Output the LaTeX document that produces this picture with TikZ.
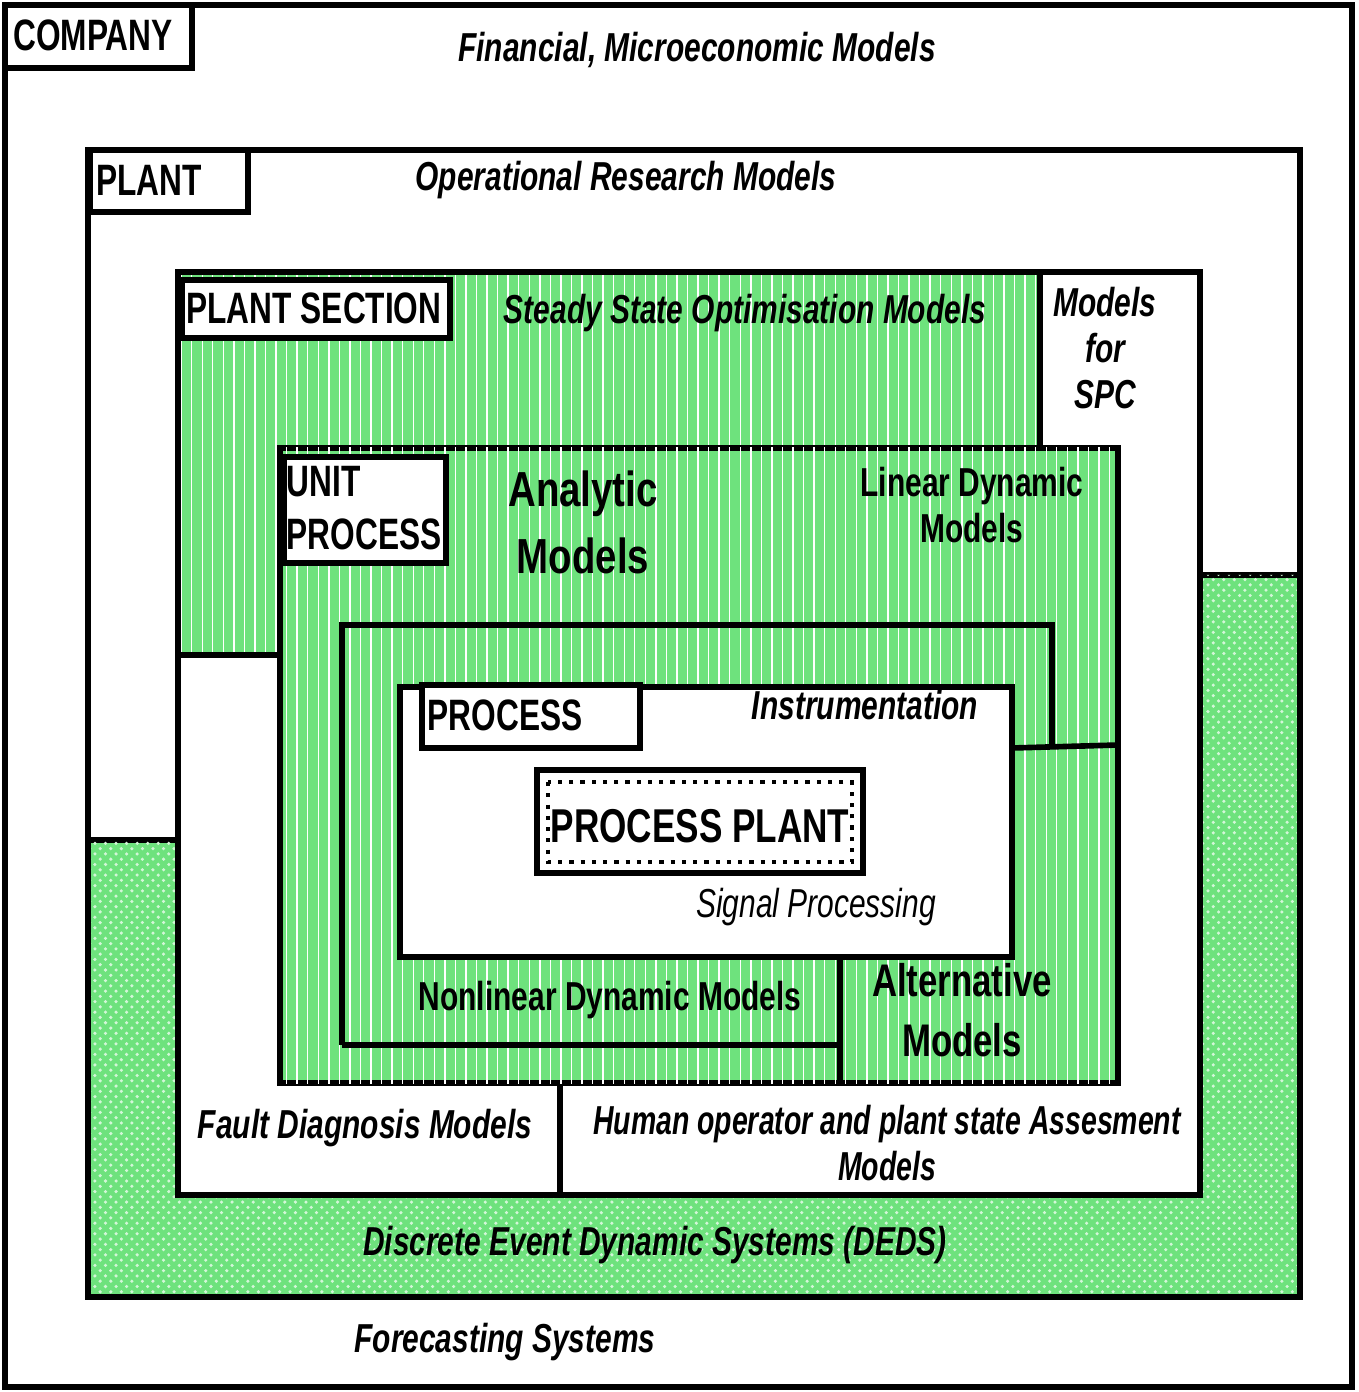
\documentclass[tikz,border=0pt]{standalone}
\usepackage{fontspec}
\setmainfont{Liberation Sans}
\usetikzlibrary{patterns}
\definecolor{grn}{RGB}{110,226,125}
\begin{document}
\begin{tikzpicture}[x=0.01cm,y=-0.01cm,line width=1.6pt,
 stripe/.style={fill=grn,postaction={pattern=vertical lines,pattern color=white}},
 dots/.style={fill=grn,postaction={pattern=crosshatch dots,pattern color=white!70!grn}},
 lab/.style={font=\bfseries\itshape\fontsize{11.5}{13}\selectfont,xscale=0.74,transform shape,align=center,inner sep=0},
 box/.style={font=\bfseries\fontsize{12.5}{15}\selectfont,xscale=0.72,transform shape,align=left,inner sep=0}]
\useasboundingbox (0,0) rectangle (1358,1392);
\fill[white] (0,0) rectangle (1358,1392);
% company
\draw (5,5) rectangle (1352,1387);
\draw (5,5) rectangle (192,68);
\node[box] (company) at (93,35) {COMPANY};
\node[lab] (fin) at (697,50) {Financial, Microeconomic Models};
\node[lab] (fore) at (505,1342) {Forecasting Systems};
% plant
\draw[dots] (88,1297) -- (88,840) -- (178,840) -- (178,1195) -- (1200,1195) -- (1200,575) -- (1300,575) -- (1300,1297) -- cycle;
\draw (88,150) rectangle (1300,1297);
\draw (90,150) rectangle (248,212);
\node[box] (plant) at (149,180) {PLANT};
\node[lab] (orm) at (626,180) {Operational Research Models};
\node[lab] (deds) at (655,1245) {Discrete Event Dynamic Systems (DEDS)};
% plant section
\path[stripe] (178,275) rectangle (1040,655);
\draw (178,272) rectangle (1200,1195);
\draw (1040,275) -- (1040,448);
\draw (178,655) -- (280,655);
\draw[fill=white] (182,280) rectangle (450,338);
\node[box] (ps) at (314,308) {PLANT SECTION};
\node[lab] (sso) at (745,313) {Steady State Optimisation Models};
\node[lab] (spc) at (1105,348) {Models\\for\\SPC};
\draw (560,1083) -- (560,1195);
\node[lab] (fdm) at (365,1128) {Fault Diagnosis Models};
\node[lab,xscale=0.95] (hum) at (887,1143) {Human operator and plant state Assesment\\Models};
% unit process
\draw[stripe] (280,448) rectangle (1118,1083);
\draw[fill=white] (284,457) rectangle (446,563);
\node[box,align=left] (up) at (364,508) {UNIT\\PROCESS};
\node[font=\bfseries\fontsize{14}{19}\selectfont,xscale=0.78,transform shape,align=center,inner sep=0] (ana) at (583,522) {Analytic\\Models};
\node[font=\bfseries\fontsize{11.5}{13}\selectfont,xscale=0.74,transform shape,align=center,inner sep=0] (lin) at (972,505) {Linear Dynamic\\Models};
% inner boxes
\draw (342,1045) -- (342,625) -- (1052,625) -- (1052,748);
\draw (342,1045) -- (840,1045);
\draw (1012,748) -- (1118,745);
\draw (840,955) -- (840,1083);
\node[font=\bfseries\fontsize{11.5}{13}\selectfont,xscale=0.74,transform shape,inner sep=0] (nl) at (610,1000) {Nonlinear Dynamic Models};
\node[font=\bfseries\fontsize{13}{17}\selectfont,xscale=0.76,transform shape,align=center,inner sep=0] (alt) at (962,1010) {Alternative\\Models};
% process
\draw[fill=white] (400,687) rectangle (1012,957);
\draw[fill=white] (422,685) rectangle (640,748);
\node[box] (proc) at (505,715) {PROCESS};
\node[lab] (instr) at (865,705) {Instrumentation};
\node[font=\itshape\fontsize{11.5}{13}\selectfont,xscale=0.74,transform shape,inner sep=0] (sig) at (816,907) {Signal Processing};
\draw[fill=white] (537,770) rectangle (863,873);
\draw[dotted,line width=1.2pt] (548,782) rectangle (852,862);
\node[font=\bfseries\fontsize{13.5}{17}\selectfont,xscale=0.74,transform shape,inner sep=0] (pp) at (700,826) {PROCESS PLANT};
\end{tikzpicture}
\end{document}
